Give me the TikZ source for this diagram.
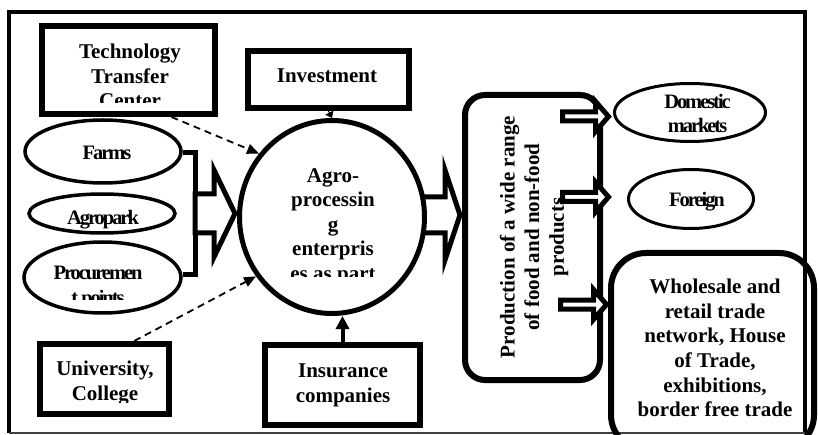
\documentclass[tikz,border=0pt]{standalone}
\usepackage{fontspec}
\setmainfont{Liberation Serif}
\newfontfamily\condfont[LetterSpace=-10]{Liberation Serif}
\usetikzlibrary{arrows.meta,calc,shapes.geometric}
\tikzset{
  rbox/.style={draw, line width=6pt, inner sep=0pt, rectangle},
  oval/.style={draw, ellipse, line width=3.5pt, inner sep=0pt},
  txt/.style={font=\fontsize{21}{24.6}\selectfont\bfseries, inner sep=0pt, align=center},
  ctxt/.style={font=\condfont\fontsize{20.5}{24.4}\selectfont\bfseries, inner sep=0pt, align=center},
  hollow/.style={draw, fill=white, line width=5pt, line join=miter},
  dasharr/.style={dash pattern=on 7pt off 5pt, line width=1.8pt, -{Triangle[length=12pt,width=10pt]}},
  pics/smallarrow/.style={code={
    \draw[hollow] (0,0) -- (-13,-15) -- (-13,-4.5) -- (-46,-4.5) -- (-46,4.5) -- (-13,4.5) -- (-13,15) -- cycle;}}
}
\begin{document}
\begin{tikzpicture}[x=1pt,y=-1pt]
\useasboundingbox (0,0) rectangle (818,435);

% outer frame
\draw[line width=4pt] (8.5,433) -- (8.5,12.5) -- (805,12.5) -- (805,433);
\draw[line width=1.2pt, black!75] (8.5,433) -- (805,433);

% left ellipses
\node[oval, minimum width=156pt, minimum height=63pt] (farms) at (103,151.5) {};
\node[oval, minimum width=146pt, minimum height=39pt] (agropark) at (102,213.5) {};
\node[oval, minimum width=157pt, minimum height=71pt] (proc) at (102.5,277.5) {};
\node[ctxt, anchor=base] (farms-t) at (107,160) {Farms};
\node[ctxt, anchor=base] (agropark-t) at (103,225) {Agropark};
\begin{scope}
  \clip (28,244) rectangle (178,299);
  \node[ctxt, anchor=north] (proc-t) at (98,266) {Procuremen\\t points};
\end{scope}

% bracket
\coordinate (bk1) at (195,152.5);
\coordinate (bk2) at (195,274.5);
\draw[line width=5pt, line join=miter] (farms.east |- bk1) -- (bk1) -- (bk2) -- (proc.east |- bk2);

% big hollow arrows
\coordinate (inTip) at (235,213.5);
\draw[hollow] (inTip) -- ++(-21,-43.5) -- ++(0,24) -- ++(-19,0) -- ++(0,39) -- ++(19,0) -- ++(0,24) -- cycle;
\coordinate (outTip) at (460,215);
\draw[hollow] (outTip) -- ++(-15,-45) -- ++(0,27) -- ++(-36,0) -- ++(0,36) -- ++(36,0) -- ++(0,27) -- cycle;

% central ellipse
\node[draw, ellipse, line width=5pt, fill=white, inner sep=0pt, minimum width=185pt, minimum height=193pt] (agro) at (332,217) {};
\begin{scope}
  \clip (241,121) rectangle (424,277);
  \node[txt, anchor=north] (agro-t) at (333,168) {Agro-\\processin\\g\\enterpris\\es as part};
\end{scope}

% boxes
\node[rbox, minimum width=173pt, minimum height=88pt] (ttc) at (128.5,70) {};
\begin{scope}
  \clip (45,29) rectangle (212,103);
  \node[txt, anchor=north] (ttc-t) at (130,44) {Technology\\Transfer\\Center};
\end{scope}

\node[rbox, minimum width=161pt, minimum height=57pt] (inv) at (328.5,79.5) {};
\node[txt, anchor=base] (inv-t) at (327,83) {Investment};

\node[rbox, minimum width=129pt, minimum height=70pt] (univ) at (104.5,379) {};
\begin{scope}
  \clip (43,347) rectangle (166,402);
  \node[txt, anchor=north] (univ-t) at (105,361) {University,\\College};
\end{scope}

\node[rbox, minimum width=155pt, minimum height=80pt] (ins) at (342.5,385) {};
\node[txt, anchor=north] (ins-t) at (343,364) {Insurance\\companies};

% production box
\node[draw, line width=6pt, rounded corners=20pt, inner sep=0pt, minimum width=135pt, minimum height=285pt] (prod) at (532.5,237.5) {};
\node[txt, rotate=90] (prod-t) at (534,237) {Production of a wide range\\of food and non-food\\products};

% right ellipses
\node[oval, line width=3pt, minimum width=151pt, minimum height=58pt] (dom) at (690,112.5) {};
\node[ctxt, anchor=north] (dom-t) at (697.5,94) {Domestic\\markets};
\node[oval, line width=3pt, minimum width=125pt, minimum height=59pt] (for) at (691,199) {};
\node[ctxt, anchor=base] (for-t) at (697,207) {Foreign};

% wholesale box
\node[draw, line width=6pt, rounded corners=35pt, inner sep=0pt, minimum width=203pt, minimum height=197pt] (whole) at (712.5,351.5) {};
\node[txt, anchor=north] (whole-t) at (715,279) {Wholesale and\\retail trade\\network, House\\of Trade,\\exhibitions,\\border free trade};

% small hollow arrows
\coordinate (t1) at (608.5,116.5);
\coordinate (t2) at (608.5,197);
\coordinate (t3) at (606.5,304.5);
\pic at (t1) {smallarrow};
\pic at (t2) {smallarrow};
\pic at (t3) {smallarrow};

% connectors
\draw[dasharr] ($(ttc.south west)!0.74!(ttc.south east)$) -- (agro.139);
\draw[dasharr] ($(univ.north west)!0.72!(univ.north east)$) -- (agro.218);
\draw[line width=4pt, -{Triangle[length=13pt,width=13pt]}] (ins.north) -- (ins.north |- agro.south);
\draw[line width=1pt, -{Triangle[length=6pt,width=9pt]}] (inv.south) -- (agro.north);
\end{tikzpicture}
\end{document}
